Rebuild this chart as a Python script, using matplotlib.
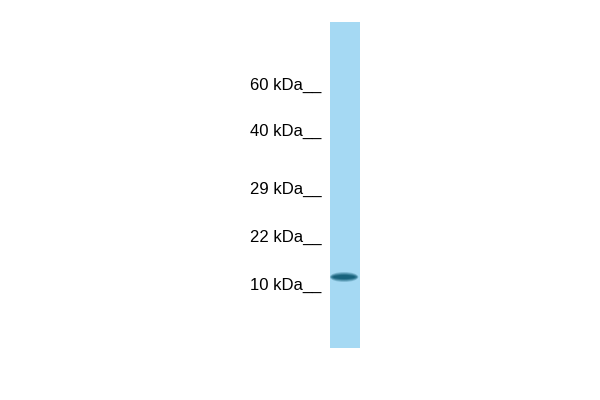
import matplotlib
matplotlib.use("Agg")
import matplotlib.pyplot as plt
from matplotlib.patches import Ellipse

# marker ladder (labels and their migration positions, in lane pixels from top of image)
marker_kda = ["60", "40", "29", "22", "10"]
marker_pos = [84, 130, 188, 236, 284]

# detected band
band_pos = [277]
band_strength = [1.0]

lane_top, lane_bottom = 22, 348


def main():
    plt.rcParams['font.family'] = ['Liberation Sans', 'DejaVu Sans']
    fig = plt.figure(figsize=(6, 4), dpi=100)
    fig.patch.set_facecolor("white")

    # lane axes sits at x 330..360 px
    ax = fig.add_axes([330 / 600, (400 - lane_bottom) / 400, 30 / 600, (lane_bottom - lane_top) / 400])
    ax.set_facecolor("#a5d9f3")
    ax.set_xlim(0, 1)
    ax.set_ylim(lane_bottom, lane_top)
    for s in ax.spines.values():
        s.set_visible(False)
    ax.set_xticks([])
    ax.set_yticks(marker_pos)
    ax.set_yticklabels([f"{k} kDa__" for k in marker_kda], fontsize=12)
    ax.tick_params(axis="y", length=0, pad=6)

    # band: stacked soft ellipses to fake the blur
    for pos, strength in zip(band_pos, band_strength):
        for w, h, a in [(0.95, 10, 0.25), (0.9, 8, 0.35), (0.85, 6, 0.5), (0.75, 4, 0.7)]:
            ax.add_patch(Ellipse((0.47, pos), w, h, facecolor="#0d5a74", edgecolor="none", alpha=a * strength))

    fig.savefig("out.png", dpi=100)


if __name__ == '__main__':
    main()
